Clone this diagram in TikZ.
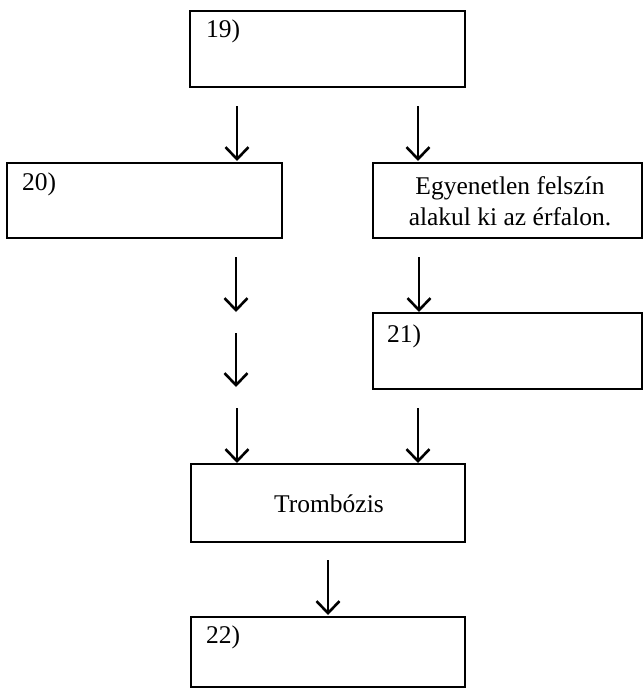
\documentclass[tikz,border=0pt]{standalone}
\usepackage{fontspec}
\setmainfont{Liberation Serif}
\usetikzlibrary{arrows.meta}
\begin{document}
\begin{tikzpicture}[x=1pt,y=-1pt,
  box/.style={draw=black,line width=2.8pt,rectangle,inner sep=0pt},
  lbl/.style={anchor=base west,inner sep=0pt,font=\fontsize{25.5}{31}\selectfont},
  ctext/.style={inner sep=0pt,align=center,font=\fontsize{25.5}{31}\selectfont},
  arr/.style={line width=2.4pt,-{Straight Barb[length=12pt,width=23pt,line width=2.6pt]}}]
\useasboundingbox (0,0) rectangle (643,688);
% boxes
\node[box,minimum width=275pt,minimum height=76pt] (b19) at (327.5,49) {};
\node[box,minimum width=275pt,minimum height=75pt] (b20) at (144.5,200.5) {};
\node[box,minimum width=269pt,minimum height=75pt] (be) at (507.5,200.5) {};
\node[box,minimum width=269pt,minimum height=76pt] (b21) at (507.5,351) {};
\node[box,minimum width=274pt,minimum height=78pt] (bt) at (328,503) {};
\node[box,minimum width=274pt,minimum height=70pt] (b22) at (328,652) {};
% texts
\node[lbl] (t19) at (206,37) {19)};
\node[lbl] (t20) at (22,190) {20)};
\node[lbl] (t21) at (387,342) {21)};
\node[lbl] (t22) at (206,643) {22)};
\node[ctext] (te) at (510,201) {Egyenetlen felszín\\alakul ki az érfalon.};
\node[ctext,anchor=base] (tt) at (329,512) {Trombózis};
% arrow end points
\coordinate (a1s) at (237,106); \coordinate (a1e) at (237,161);
\coordinate (a2s) at (418,106); \coordinate (a2e) at (418,161);
\coordinate (a3s) at (236,257); \coordinate (a3e) at (236,312);
\coordinate (a4s) at (419,257); \coordinate (a4e) at (419,312);
\coordinate (a5s) at (236,333); \coordinate (a5e) at (236,387);
\coordinate (a6s) at (237,408); \coordinate (a6e) at (237,463);
\coordinate (a7s) at (418,408); \coordinate (a7e) at (418,463);
\coordinate (a8s) at (328,560); \coordinate (a8e) at (328,615);
\foreach \i in {1,...,8} {\draw[arr] (a\i s) -- (a\i e);}
\end{tikzpicture}
\end{document}
